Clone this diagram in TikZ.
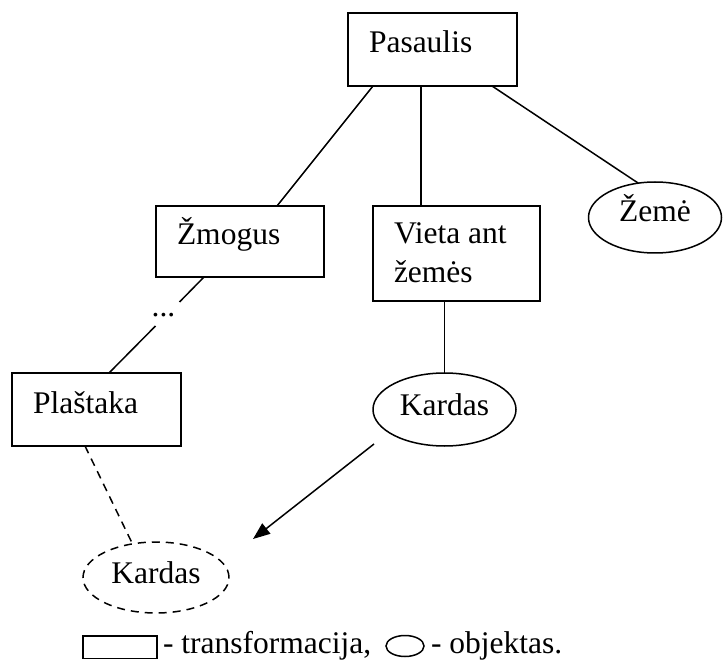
\documentclass[tikz,border=0pt]{standalone}
\usepackage{fontspec}
\setmainfont{Liberation Serif}
\usetikzlibrary{shapes.geometric,arrows.meta,calc}
\newcommand{\dfont}{\fontsize{31.5pt}{38.5pt}\selectfont}
\begin{document}
\begin{tikzpicture}[x=1pt,y=-1pt,
  every node/.style={font=\dfont, outer sep=0pt},
  ln/.style={line width=1.5pt},
  tbox/.style={draw, rectangle, line width=1.5pt, inner xsep=21pt, inner ysep=0pt, anchor=north west},
  obj/.style={draw, ellipse, line width=1.5pt, inner sep=0pt, text height=21pt},
  dsh/.style={dash pattern=on 8pt off 6pt},
  plain/.style={inner sep=0pt}]
\useasboundingbox (0,0) rectangle (723,660);

% transformations (boxes)
\node[tbox, text height=40pt, text depth=33pt] (pas) at (348,13) {\makebox[127pt][l]{Pasaulis}};
\node[tbox, text height=39pt, text depth=32pt] (zm) at (156,206) {\makebox[126pt][l]{Žmogus}};
\node[tbox, text height=38pt, text depth=57pt] (vieta) at (373,206) {\makebox[125pt][l]{\begin{tabular}[t]{@{}l@{}}Vieta ant\\žemės\end{tabular}}};
\node[tbox, text height=40pt, text depth=33pt] (plas) at (12,373) {\makebox[127pt][l]{Plaštaka}};

% objects (ellipses)
\node[obj, minimum width=133pt, minimum height=71pt, text depth=12pt] (zeme) at (655,217.5) {Žemė};
\node[obj, minimum width=143pt, minimum height=73pt, text depth=10pt] (kard) at (444.5,409.5) {Kardas};
\node[obj, dsh, minimum width=146pt, minimum height=71pt, text depth=10pt] (kard2) at (156,577.5) {Kardas};

% ellipsis
\node[plain, anchor=base] (dots) at (163.5,317) {...};

% legend
\node[draw, rectangle, line width=1.5pt, minimum width=74pt, minimum height=22.5pt, inner sep=0pt] (legbox) at (120,647.25) {};
\node[plain, anchor=base west] (legt1) at (163,653) {- transformacija,};
\node[draw, ellipse, line width=1.5pt, inner sep=0pt, minimum width=38pt, minimum height=21pt] (legell) at (405,646) {};
\node[plain, anchor=base west] (legt2) at (431,653) {- objektas.};

% connectors
\draw[ln] ($(pas.south west)+(25,0)$) -- ($(zm.north west)+(121,0)$);
\draw[ln] ($(pas.south west)+(73,0)$) -- ($(vieta.north west)+(48,0)$);
\draw[ln] ($(pas.south west)+(144,0)$) -- (zeme.116);
\draw[ln] ($(zm.south west)+(48,0)$) -- ($(dots.base)+(16,-15)$);
\draw[ln] ($(dots.base)+(-8,9)$) -- ($(plas.north west)+(97,0)$);
\draw[ln] (kard.north |- vieta.south) -- (kard.north);
\coordinate (tip) at (253,539);
\draw[ln, -{Triangle[length=17pt,width=13pt]}] ($(kard.center)+(-70.5,34.5)$) -- (tip);
\draw[ln, dsh] ($(plas.south west)+(73,0)$) -- (kard2.125);
\end{tikzpicture}
\end{document}
